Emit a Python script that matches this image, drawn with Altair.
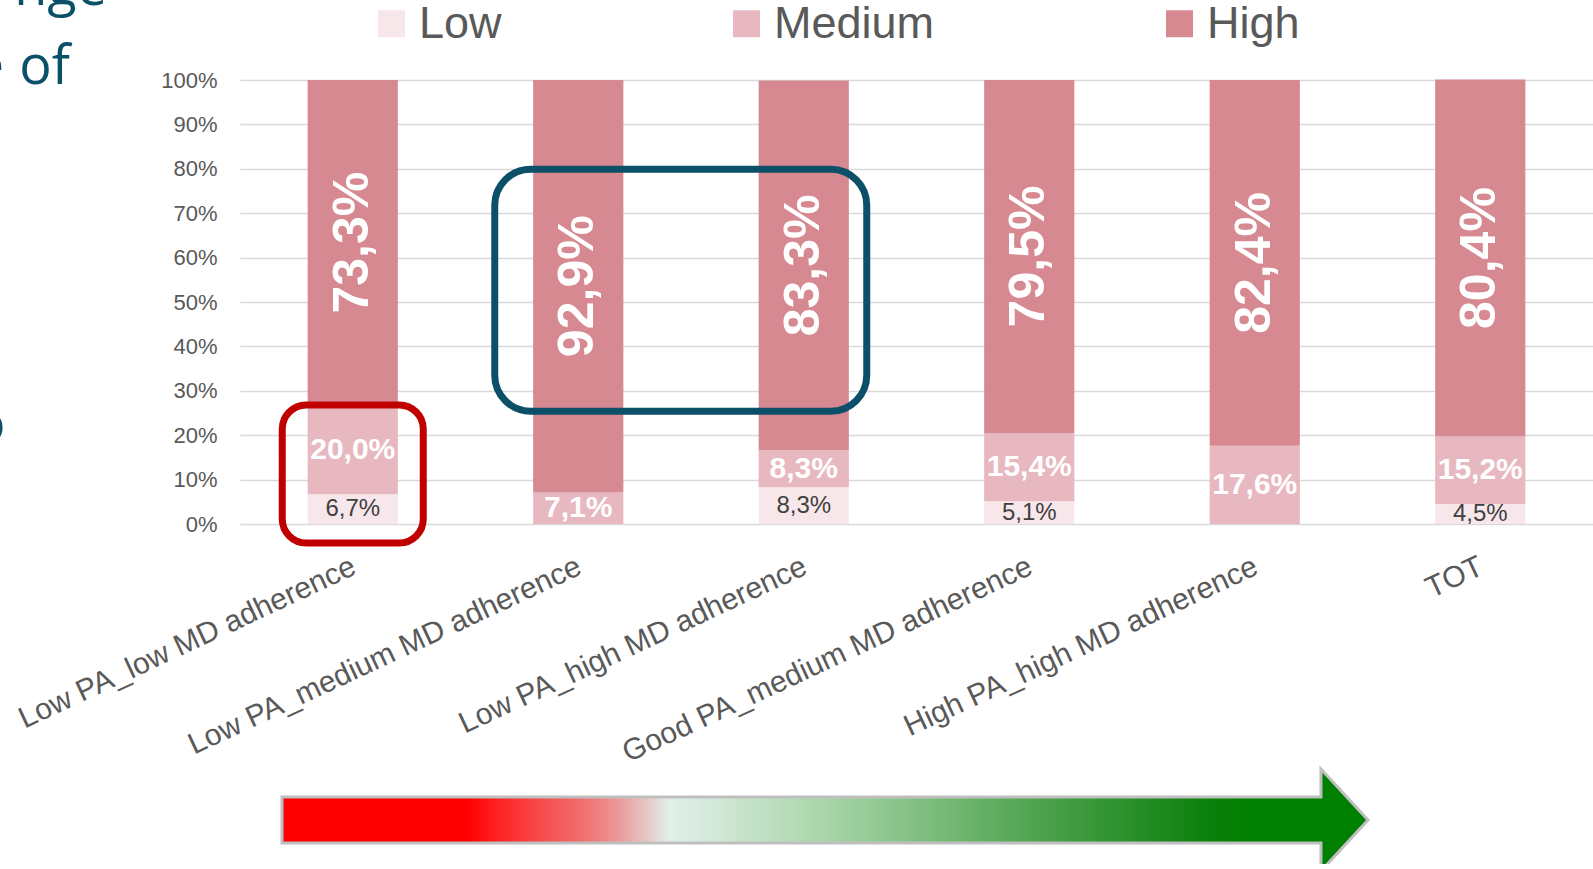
import altair as alt
import pandas as pd

# Groups on the x axis (left to right)
categories = [
    "Low PA_low MD adherence",
    "Low PA_medium MD adherence",
    "Low PA_high MD adherence",
    "Good PA_medium MD adherence",
    "High PA_high MD adherence",
    "TOT",
]
levels = ["Low", "Medium", "High"]

# Share of each level within a group, in percent
low_pct = [6.7, 0.0, 8.3, 5.1, 0.0, 4.5]
medium_pct = [20.0, 7.1, 8.3, 15.4, 17.6, 15.2]
high_pct = [73.3, 92.9, 83.3, 79.5, 82.4, 80.4]

level_colors = ["#F8E7EA", "#E8B8C0", "#D68991"]
y_ticks = [0, 10, 20, 30, 40, 50, 60, 70, 80, 90, 100]

rows = []
for i, cat in enumerate(categories):
    for order, (lvl, series) in enumerate(zip(levels, [low_pct, medium_pct, high_pct])):
        rows.append({"category": cat, "level": lvl, "level_order": order, "value": series[i]})
df = pd.DataFrame(rows)

FONT = "Liberation Sans"
GREY = "#595959"

x_enc = alt.X(
    "category:N",
    sort=categories,
    scale=alt.Scale(paddingInner=0.6, paddingOuter=0.3),
    axis=alt.Axis(
        title=None, labelAngle=335, labelAlign="right", labelBaseline="top",
        labelFontSize=30, labelColor=GREY, labelFont=FONT, labelPadding=27,
        labelOffset=-5, labelLimit=800, ticks=False, domain=False, grid=False,
    ),
)
y_scale = alt.Scale(domain=[0, 100], nice=False)

bars = alt.Chart(df).mark_bar().encode(
    x=x_enc,
    y=alt.Y(
        "value:Q", stack="zero", scale=y_scale,
        axis=alt.Axis(
            title=None, values=y_ticks, labelExpr="datum.value + '%'",
            labelFontSize=22, labelColor=GREY, labelFont=FONT, labelPadding=23,
            ticks=False, domain=False, grid=True, gridColor="#D9D9D9", gridWidth=1.6,
        ),
    ),
    color=alt.Color(
        "level:N",
        scale=alt.Scale(domain=levels, range=level_colors),
        legend=alt.Legend(
            title=None, orient="none", legendX=129, legendY=-79, direction="horizontal",
            symbolType="square", symbolSize=729, symbolStrokeWidth=0,
            labelFontSize=45, labelColor=GREY, labelFont=FONT, labelOffset=5,
            labelLimit=400, columnPadding=222, padding=0,
        ),
    ),
    order=alt.Order("level_order:Q", sort="ascending"),
)

# Segment midpoints for the value labels
labels = (
    alt.Chart(df)
    .transform_filter("datum.value > 0")
    .transform_stack(
        stack="value", groupby=["category"],
        sort=[alt.SortField("level_order", order="ascending")], as_=["v0", "v1"],
    )
    .transform_calculate(
        mid="(datum.v0 + datum.v1) / 2",
        label="replace(format(datum.value, '.1f'), '.', ',') + '%'",
    )
)

def level_text(level, **style):
    return labels.transform_filter(alt.datum.level == level).mark_text(
        font=FONT, align="center", baseline="middle", **style
    ).encode(x=x_enc, y=alt.Y("mid:Q", scale=y_scale), text="label:N")

text_high = level_text("High", angle=270, fontSize=50, fontWeight="bold", color="white")
text_med = level_text("Medium", fontSize=30, fontWeight="bold", color="white")
text_low = level_text("Low", fontSize=24, color="#404040")

# Highlight boxes
red_box = alt.Chart(pd.DataFrame({"category": [categories[0]], "y0": [-4.3], "y1": [26.8]})).mark_bar(
    width=141, fillOpacity=0, stroke="#C00000", strokeWidth=7, cornerRadius=24
).encode(x=x_enc, y=alt.Y("y0:Q", scale=y_scale), y2="y1:Q")

blue_box = alt.Chart(pd.DataFrame({"category": [categories[1]], "y0": [25.4], "y1": [79.9]})).mark_bar(
    width=372, xOffset=102.5, fillOpacity=0, stroke="#0C4F68", strokeWidth=7, cornerRadius=36
).encode(x=x_enc, y=alt.Y("y0:Q", scale=y_scale), y2="y1:Q")

# Red-to-green gradient arrow under the axis
arrow_path = (
    "M-1,-0.0424 L0.9134,-0.0424 L0.9134,-0.0939 L1,0 "
    "L0.9134,0.0939 L0.9134,0.0424 L-1,0.0424 Z"
)
stops = [
    (0.0, "#FF0000"), (0.17, "#FF0000"), (0.2, "#FE2424"), (0.245, "#F55252"),
    (0.278, "#F07070"), (0.31, "#EA9A98"), (0.338, "#E4CCC8"), (0.357, "#E2F0EA"),
    (0.41, "#CDE6D2"), (0.506, "#A6D4A6"), (0.603, "#79BA79"), (0.70, "#4CA24C"),
    (0.797, "#238C23"), (0.855, "#0A800A"), (0.9, "#008000"), (1.0, "#008000"),
]
gradient = alt.LinearGradient(
    gradient="linear", x1=0, x2=1, y1=0, y2=0,
    stops=[alt.GradientStop(offset=o, color=c) for o, c in stops],
)
one = pd.DataFrame({"k": [0]})
arrow = alt.Chart(one).mark_point(
    shape=arrow_path, size=1086 ** 2, filled=True, fill=gradient, fillOpacity=1,
    opacity=1, stroke="#BFBFBF", strokeWidth=3,
).encode(x=alt.value(585), y=alt.value(740))

# Slide title fragments at the left edge
TEAL = "#0B5069"

def fragment(text, x, y, weight="normal"):
    return alt.Chart(one).mark_text(
        text=text, font="Open Sans", fontSize=54, fontWeight=weight, color=TEAL,
        align="right", baseline="alphabetic",
    ).encode(x=alt.value(x), y=alt.value(y))

frag_top = fragment("nge", -133, -75)
frag_e = fragment("e", -236, 4)
frag_of = fragment("of", -170, 4)
frag_mid = fragment("o", -235, 362, "bold")

chart = (
    alt.layer(bars, text_high, text_med, text_low, blue_box, red_box, arrow,
              frag_top, frag_e, frag_of, frag_mid)
    .properties(
        width=1353, height=444,
        padding={"left": 240, "top": 80, "right": 0, "bottom": 340},
        autosize=alt.AutoSizeParams(type="none"),
    )
    .configure_view(stroke=None)
)

chart.save("out.html", embed_options={"renderer": "svg", "actions": False})
